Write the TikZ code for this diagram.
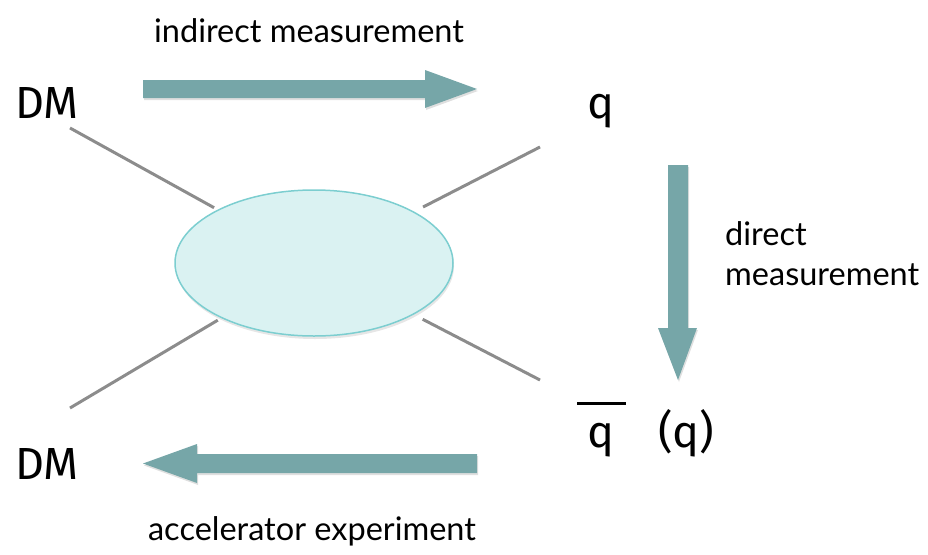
\documentclass[tikz,border=0pt]{standalone}
\usepackage{fontspec}
\setmainfont{Fira Sans}
\newfontfamily\notefont{Lato}
\usetikzlibrary{shapes.geometric,shadows}
\definecolor{arrowteal}{RGB}{118,166,168}
\definecolor{blobfill}{RGB}{218,242,242}
\definecolor{blobedge}{RGB}{124,206,208}
\definecolor{leggray}{RGB}{140,140,140}
\begin{document}
\begin{tikzpicture}[x=1pt, y=-1pt]
        \tikzstyle{label}=[font=\fontsize{45}{50}\selectfont, inner sep=0pt];
        \tikzstyle{note}=[font=\notefont\fontsize{32.5}{40}\selectfont, inner sep=0pt, align=left];
        \tikzstyle{leg}=[draw=leggray, line width=3pt];
        \tikzstyle{bigarrow}=[fill=arrowteal, drop shadow={opacity=0.25, shadow xshift=1pt, shadow yshift=-2pt}];

        \useasboundingbox (0,0) rectangle (928,554);

        % particles
        \node[label, anchor=base west] (dmtop) at (15,118) {DM};
        \node[label, anchor=base west] (dmbot) at (15,479) {DM};
        \node[label, anchor=base] (qtop) at (601,118) {q};
        \node[label, anchor=base] (qbar) at (601,447) {q};
        \node[label, anchor=base west] (qalt) at (658,447) {(q)};
        \draw[line width=2.5pt] ([xshift=-24pt, yshift=19pt]qbar.north) -- ([xshift=25pt, yshift=19pt]qbar.north);

        % interaction
        \node[ellipse, draw=blobedge, fill=blobfill, line width=1.5pt, minimum width=278pt, minimum height=146pt,
              drop shadow={opacity=0.2, shadow xshift=1pt, shadow yshift=-3pt}] (blob) at (314,263) {};

        \coordinate (legtl) at (70,128);
        \coordinate (legtr) at (540,147);
        \coordinate (legbl) at (70,408);
        \coordinate (legbr) at (540,380);
        \draw[leg, shorten >=4pt] (legtl) -- (blob);
        \draw[leg, shorten >=10pt] (legtr) -- (blob);
        \draw[leg, shorten >=4pt] (legbl) -- (blob);
        \draw[leg, shorten >=10pt] (legbr) -- (blob);

        % channels
        \fill[bigarrow] (143,80) -- (425,80) -- (425,70) -- (477,89) -- (425,108) -- (425,98) -- (143,98) -- cycle;
        \fill[bigarrow] (668,165) -- (688,165) -- (688,328) -- (697,328) -- (678,380) -- (658,328) -- (668,328) -- cycle;
        \fill[bigarrow] (477,454) -- (197,454) -- (197,444) -- (143,463.5) -- (197,483) -- (197,473) -- (477,473) -- cycle;

        \node[note, anchor=base] (indirect) at (309,42) {indirect measurement};
        \node[note, anchor=north west] (direct) at (725,221) {direct\\measurement};
        \node[note, anchor=base] (accel) at (312,540) {accelerator experiment};
\end{tikzpicture}
\end{document}
